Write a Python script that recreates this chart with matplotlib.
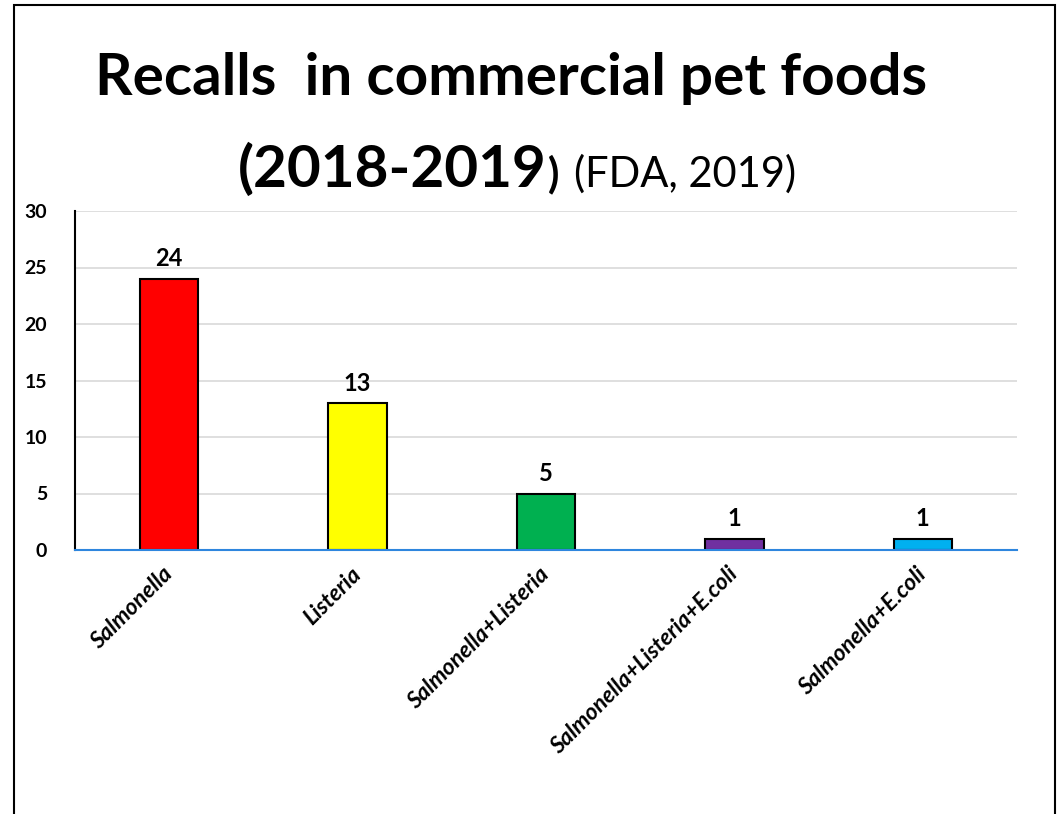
import matplotlib.pyplot as plt
from matplotlib.patches import Rectangle

plt.rcParams['font.family'] = ['Lato', 'DejaVu Sans']

categories = ['Salmonella', 'Listeria', 'Salmonella+Listeria',
              'Salmonella+Listeria+E.coli', 'Salmonella+E.coli']
recalls = [24, 13, 5, 1, 1]
bar_colors = ['#FF0000', '#FFFF00', '#00B050', '#7030A0', '#00B0F0']
y_ticks = [0, 5, 10, 15, 20, 25, 30]

W, H = 1057, 814
fig = plt.figure(figsize=(W / 100, H / 100), dpi=100)

# slide frame
fig.patches.append(Rectangle((14 / W, -0.01), (1055 - 14) / W, 1.01 - 5 / H,
                             transform=fig.transFigure, fill=False,
                             edgecolor='black', linewidth=1.5))

ax = fig.add_axes([75 / W, 1 - 550 / H, (1017 - 75) / W, (550 - 211) / H])
x = range(len(categories))
bars = ax.bar(x, recalls, width=0.31, color=bar_colors,
              edgecolor='black', linewidth=1.5, zorder=3)

for b, v in zip(bars, recalls):
    ax.annotate(str(v), (b.get_x() + b.get_width() / 2, v),
                xytext=(0, 6), textcoords='offset points',
                ha='center', va='bottom', fontsize=17, fontweight='bold')

ax.set_xlim(-0.5, len(categories) - 0.5)
ax.set_ylim(0, 30)
ax.set_yticks(y_ticks)
ax.set_yticklabels([str(t) for t in y_ticks], fontsize=14, fontweight='bold')
ax.set_xticks(list(x))
ax.set_xticklabels(categories, rotation=45, ha='right', va='center',
                   rotation_mode='anchor', fontsize=16.5, style='italic',
                   fontweight='bold')
ax.tick_params(axis='x', length=0, pad=15)
ax.tick_params(axis='y', length=0, pad=20)

ax.grid(axis='y', color='#D9D9D9', linewidth=1.2, zorder=0)
ax.spines['top'].set_visible(False)
ax.spines['right'].set_visible(False)
ax.spines['left'].set_color('black')
ax.spines['left'].set_linewidth(1.5)
ax.spines['bottom'].set_color('#2E86DE')
ax.spines['bottom'].set_linewidth(1.5)
ax.spines['bottom'].set_zorder(4)

# two-line title, second line mixes sizes and weights
fig.text(511 / W, 1 - 95 / H, 'Recalls  in commercial pet foods',
         ha='center', va='baseline', fontsize=42, fontweight='bold')
fig.text(547 / W, 1 - 187 / H, '(2018-2019', ha='right', va='baseline',
         fontsize=42, fontweight='bold')
fig.text(548 / W, 1 - 187 / H, ')', ha='left', va='baseline',
         fontsize=30, fontweight='bold')
fig.text(574 / W, 1 - 187 / H, '(FDA, 2019)', ha='left', va='baseline',
         fontsize=30)

fig.savefig('out.png', dpi=100)
